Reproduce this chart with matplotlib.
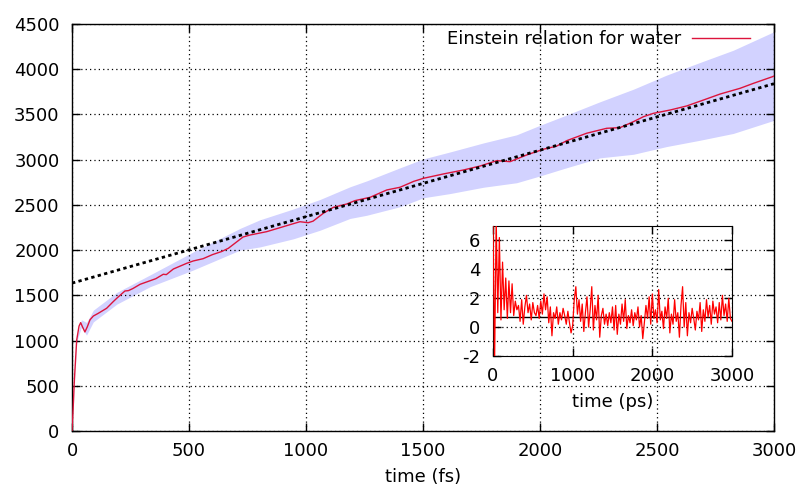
import numpy as np
import matplotlib
matplotlib.use('Agg')
import matplotlib.pyplot as plt

# main curve: MSD of water vs time (fs)
t_fs = [0, 5, 10, 20, 30, 37, 45, 55, 65, 77, 91, 112, 148, 176, 191, 226, 241,
        260, 291, 358, 390, 403, 433, 490, 518, 560, 600, 640, 668, 731, 761,
        832, 917, 974, 1009, 1030, 1074, 1117, 1174, 1209, 1274, 1345, 1402,
        1460, 1502, 1587, 1673, 1744, 1815, 1872, 1943, 2014, 2071, 2114, 2199,
        2285, 2342, 2399, 2442, 2484, 2556, 2627, 2699, 2770, 2855, 2912, 2994, 3000]
msd = [0, 260, 560, 1006, 1160, 1198, 1150, 1095, 1150, 1230, 1271, 1301, 1357,
       1430, 1467, 1548, 1552, 1575, 1622, 1684, 1733, 1729, 1791, 1854, 1880,
       1905, 1950, 1985, 2020, 2145, 2167, 2204, 2270, 2314, 2303, 2320, 2407,
       2473, 2510, 2547, 2584, 2665, 2695, 2760, 2794, 2842, 2886, 2930, 2989,
       2978, 3052, 3115, 3150, 3210, 3292, 3347, 3354, 3420, 3475, 3512, 3549,
       3594, 3660, 3726, 3789, 3844, 3918, 3925]

# error band (upper / lower edges)
band_t = [0, 20, 40, 62, 91, 191, 333, 518, 718, 803, 946, 1060, 1188, 1259,
          1402, 1502, 1615, 1758, 1900, 2000, 2100, 2256, 2400, 2541, 2684, 2826, 3000]
band_hi = [0, 1026, 1230, 1200, 1336, 1532, 1725, 1980, 2240, 2335, 2455, 2560,
           2700, 2765, 2910, 3009, 3085, 3185, 3275, 3380, 3480, 3640, 3780, 3935,
           4075, 4210, 4415]
band_lo = [0, 986, 1150, 1060, 1206, 1402, 1595, 1780, 2000, 2035, 2125, 2220,
           2350, 2385, 2480, 2579, 2625, 2695, 2745, 2820, 2900, 3020, 3060, 3145,
           3215, 3290, 3435]

# linear fit
fit_intercept = 1635
fit_slope = 0.735

# inset: signal vs time (ps), one value every 20 ps
inset_step = 20
inset_y = [7.5, -2.5, 7.5, 1.0, 6.2, 0.5, 4.5, 1.2, 3.4, 0.6, 3.2, 1.0, 3.0, 0.8,
           1.8, 1.2, 1.5, 0.4, 1.9, 0.2, 1.4, 2.2, 1.0, 1.6, 0.5, 1.7, 1.0, 0.8,
           1.5, 0.6, 1.8, 0.9, 2.3, 1.2, 2.1, 0.3, 1.4, -0.6, 1.0, 0.6, 1.4, 0.2,
           1.0, 0.5, 1.3, 0.8, 0.2, 1.1, 0.3, -0.4, 0.1, 1.9, 2.8, 0.9, 1.9, 0.4,
           1.6, -0.3, 1.0, 2.1, 0.0, 1.2, 2.8, -0.2, 1.5, 0.5, 2.2, -0.7, 0.8, 1.3,
           0.2, 0.9, 0.1, 1.0, 0.3, 1.4, -0.2, 1.5, -0.5, 0.9, 0.2, 1.6, 0.4, 1.9,
           -0.1, 0.8, 0.3, 1.2, 0.1, 1.0, 0.5, 1.4, 0.0, 0.8, -0.8, 0.3, 1.5, 0.6,
           2.1, 0.2, 2.3, 0.6, 1.2, 0.3, 2.6, 0.5, 1.1, -0.1, 1.4, 0.6, 2.0, -0.4,
           0.9, 0.2, 1.9, 0.4, 1.0, -0.7, 1.5, 2.8, 0.0, 1.7, -0.6, 1.0, 0.3, 1.3,
           0.6, -0.2, 1.1, 0.5, 1.7, -0.3, 1.2, 0.4, 1.9, 0.7, 1.5, 0.2, 1.8, 0.9,
           1.4, 0.3, 1.7, 0.5, 2.2, 0.8, 1.6, 0.4, 2.0, 0.6, 0.4]
inset_mean = 0.72

plt.rcParams['font.family'] = 'DejaVu Sans'
plt.rcParams['font.size'] = 13
plt.rcParams['axes.unicode_minus'] = False

fig = plt.figure(figsize=(8.02, 4.95), dpi=100)
ax = fig.add_axes([0.0898, 0.1293, 0.8753, 0.8222])

grid_kw = dict(color='black', linestyle=(0, (1, 2.5)), linewidth=0.9)

ax.fill_between(band_t, band_lo, band_hi, color='#d2d2ff', linewidth=0, zorder=1)
ax.plot(t_fs, msd, color='#dc143c', linewidth=1.0, zorder=3,
        label='Einstein relation for water')
xf = np.array([0, 3000])
ax.plot(xf, fit_intercept + fit_slope * xf, color='black',
        linestyle=(0, (1.2, 1.2)), linewidth=2.0, zorder=4)

ax.set_xlim(0, 3000)
ax.set_ylim(0, 4500)
ax.set_xticks(np.arange(0, 3001, 500))
ax.set_yticks(np.arange(0, 4501, 500))
ax.tick_params(direction='in', length=6, width=1, top=True, right=True,
               labelsize=13)
ax.tick_params(axis='y', pad=9)
ax.tick_params(axis='x', pad=8)
ax.grid(True, **grid_kw)
ax.set_axisbelow(False)
for s in ax.spines.values():
    s.set_linewidth(1.0)
ax.set_xlabel('time (fs)', fontsize=13, labelpad=6)

leg = ax.legend(loc='upper right', bbox_to_anchor=(0.966, 0.985), frameon=False,
                markerfirst=False, handlelength=3.2, handletextpad=0.6,
                borderpad=0, borderaxespad=0, fontsize=13)

# inset
ins = fig.add_axes([0.6147, 0.2808, 0.298, 0.2626])
ins.patch.set_alpha(0)
t_ps = np.arange(len(inset_y)) * inset_step
ins.plot(t_ps, inset_y, color='red', linewidth=0.9, zorder=3)
ins.axhline(inset_mean, color='black', linewidth=1.0, zorder=2)
ins.set_xlim(0, 3000)
ins.set_ylim(-2, 7)
ins.set_xticks([0, 1000, 2000, 3000])
ins.set_yticks([-2, 0, 2, 4, 6])
ins.tick_params(direction='in', length=6, width=1, top=True, right=True,
                labelsize=13)
ins.tick_params(axis='y', pad=9)
ins.tick_params(axis='x', pad=8)
ins.grid(True, **grid_kw)
ins.set_xlabel('time (ps)', fontsize=13, labelpad=6)

fig.savefig('out.png', dpi=100)
